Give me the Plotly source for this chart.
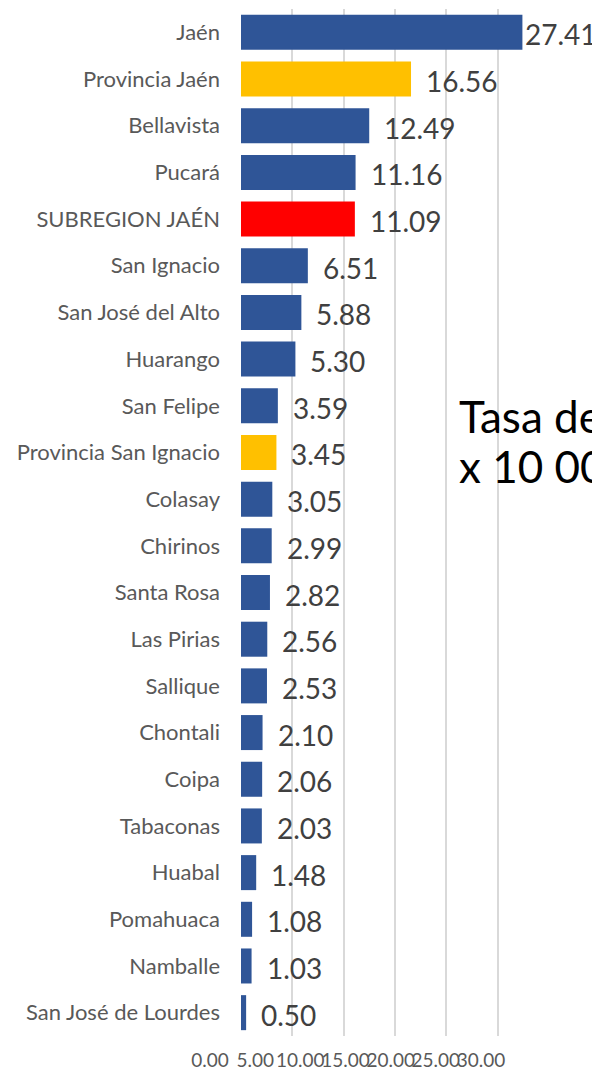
import plotly.graph_objects as go

categories = ["Jaén", "Provincia Jaén", "Bellavista", "Pucará", "SUBREGION JAÉN",
              "San Ignacio", "San José del Alto", "Huarango", "San Felipe",
              "Provincia San Ignacio", "Colasay", "Chirinos", "Santa Rosa",
              "Las Pirias", "Sallique", "Chontali", "Coipa", "Tabaconas",
              "Huabal", "Pomahuaca", "Namballe", "San José de Lourdes"]
values = [27.41, 16.56, 12.49, 11.16, 11.09, 6.51, 5.88, 5.30, 3.59, 3.45,
          3.05, 2.99, 2.82, 2.56, 2.53, 2.10, 2.06, 2.03, 1.48, 1.08, 1.03, 0.50]
kinds = ["d", "p", "d", "d", "s", "d", "d", "d", "d", "p", "d", "d", "d",
         "d", "d", "d", "d", "d", "d", "d", "d", "d"]
tick_vals = [0, 5, 10, 15, 20, 25, 30]
note_lines = ["Tasa de", "x 10 000"]

color_map = {"d": "#2F5597", "p": "#FFC000", "s": "#FF0000"}
colors = [color_map[k] for k in kinds]
FONT = "Lato"

fig = go.Figure()
fig.add_trace(go.Bar(
    y=categories, x=values, orientation="h", marker_color=colors,
    marker_line_width=0, hoverinfo="skip"))
# empty trace so the secondary (label-only) axis is drawn
fig.add_trace(go.Scatter(x=[], y=[], xaxis="x2", yaxis="y2", hoverinfo="skip"))

vmax = max(values)
for c, v in zip(categories, values):
    fig.add_annotation(x=v, y=c, xref="x", yref="y", text=f"{v:.2f}",
                       showarrow=False, xanchor="left", yanchor="middle",
                       xshift=1 if v == vmax else 13, yshift=-2,
                       font=dict(family=FONT, size=28, color="#404040"))

fig.add_annotation(x=0.6425, y=0.604, xref="paper", yref="paper", text=note_lines[0],
                   showarrow=False, xanchor="left", yanchor="middle",
                   font=dict(family=FONT, size=44, color="#000000"))
fig.add_annotation(x=0.6425, y=0.555, xref="paper", yref="paper", text=note_lines[1],
                   showarrow=False, xanchor="left", yanchor="middle",
                   font=dict(family=FONT, size=44, color="#000000"))

fig.update_layout(
    width=592, height=1062,
    margin=dict(l=192, r=0, t=1, b=34),
    paper_bgcolor="white", plot_bgcolor="rgba(0,0,0,0)",
    bargap=0.25, showlegend=False,
    xaxis=dict(domain=[0.1025, 0.8725], range=[0, 30], tickvals=tick_vals,
               showticklabels=False, showgrid=True, gridcolor="#D9D9D9",
               gridwidth=1.5, zeroline=False, showline=False, fixedrange=True,
               automargin=False),
    yaxis=dict(autorange="reversed", showgrid=False, zeroline=False, showline=False,
               ticklabelstandoff=20, automargin=False,
               tickfont=dict(family=FONT, size=22, color="#595959")),
    xaxis2=dict(domain=[0.025, 0.7025], range=[0, 30], anchor="y2",
                tickvals=tick_vals, ticktext=[f"{t:.2f}" for t in tick_vals],
                tickangle=0, automargin=False,
                showgrid=False, zeroline=False, showline=False,
                ticklabelstandoff=11,
                tickfont=dict(family=FONT, size=19, color="#595959")),
    yaxis2=dict(domain=[0, 1], anchor="x2", visible=False, range=[0, 1]),
)

fig.write_html("out.html")
